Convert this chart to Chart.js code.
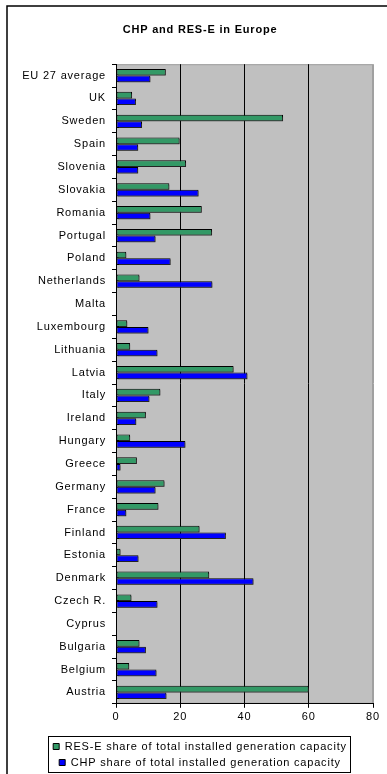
<!DOCTYPE html>
<html>
<head>
<meta charset="utf-8">
<script src="https://cdn.jsdelivr.net/npm/chart.js@4/dist/chart.umd.min.js"></script>
<style>
  html, body { margin: 0; padding: 0; background: #fff; }
  canvas { display: block; }
</style>
</head>
<body>
<canvas id="chpChart" width="387" height="774"></canvas>
<script>
// Countries, top to bottom as in the chart
const countries = ['EU 27 average', 'UK', 'Sweden', 'Spain', 'Slovenia', 'Slovakia', 'Romania',
    'Portugal', 'Poland', 'Netherlands', 'Malta', 'Luxembourg', 'Lithuania', 'Latvia', 'Italy',
    'Ireland', 'Hungary', 'Greece', 'Germany', 'France', 'Finland', 'Estonia', 'Denmark',
    'Czech R.', 'Cyprus', 'Bulgaria', 'Belgium', 'Austria'];

// RES-E share of total installed generation capacity (%)
const resShare = [15.5, 5.0, 52.0, 19.8, 21.8, 16.6, 26.7, 29.9, 3.2, 7.3, 0, 3.5, 4.4, 36.6,
    13.8, 9.3, 4.4, 6.5, 15.1, 13.2, 26.0, 1.4, 29.0, 4.8, 0, 7.3, 4.1, 60.0];

// CHP share of total installed generation capacity (%)
const chpShare = [10.7, 6.2, 8.1, 6.9, 6.9, 25.7, 10.7, 12.3, 17.0, 30.0, 0, 10.1, 12.9, 40.9,
    10.4, 6.3, 21.6, 1.4, 12.3, 3.2, 34.2, 7.0, 42.8, 12.9, 0, 9.3, 12.6, 15.7];

const xTicks = [0, 20, 40, 60, 80];

const FONT = 'Liberation Sans, Arial, sans-serif';

// wide Excel-like text spacing
const spacingPlugin = {
    id: 'spacing',
    beforeLayout(chart) { chart.ctx.letterSpacing = '0.8px'; },
    beforeDraw(chart) { chart.ctx.letterSpacing = '0.8px'; }
};

// grey plot area, page frame, bar shadows and legend box
const framePlugin = {
    id: 'frame',
    beforeDraw(chart) {
        const ctx = chart.ctx;
        const a = chart.chartArea;
        ctx.save();
        ctx.fillStyle = '#fff';
        ctx.fillRect(0, 0, chart.width, chart.height);
        // outer frame (only top and left visible)
        ctx.strokeStyle = '#000';
        ctx.lineWidth = 1.5;
        ctx.beginPath();
        ctx.moveTo(7, chart.height + 2);
        ctx.lineTo(7, 6);
        ctx.lineTo(chart.width + 2, 6);
        ctx.stroke();
        ctx.fillStyle = '#c0c0c0';
        ctx.fillRect(a.left, a.top, a.right - a.left, a.bottom - a.top);
        ctx.strokeStyle = '#a0a0a0';
        ctx.lineWidth = 1;
        ctx.strokeRect(a.left + 0.5, a.top + 0.5, a.right - a.left - 1, a.bottom - a.top - 1);
        ctx.restore();
    },
    beforeDatasetsDraw(chart) {
        const ctx = chart.ctx;
        ctx.save();
        ctx.shadowColor = 'rgba(60,60,60,0.6)';
        ctx.shadowOffsetX = 1.5;
        ctx.shadowOffsetY = 1.5;
        ctx.shadowBlur = 0;
    },
    afterDatasetsDraw(chart) {
        chart.ctx.restore();
    },
    afterDraw(chart) {
        const lg = chart.legend;
        if (!lg || !lg.legendHitBoxes.length) return;
        let l = Infinity, r = -Infinity, t = Infinity, b = -Infinity;
        lg.legendHitBoxes.forEach(h => {
            l = Math.min(l, h.left); r = Math.max(r, h.left + h.width);
            t = Math.min(t, h.top); b = Math.max(b, h.top + h.height);
        });
        const ctx = chart.ctx;
        ctx.save();
        ctx.strokeStyle = '#000';
        ctx.lineWidth = 1;
        ctx.strokeRect(Math.round(l - 5) + 0.5, Math.round(t - 5) + 0.5, Math.round(r - l + 8), Math.round(b - t + 9));
        ctx.restore();
    }
};

const ctx = document.getElementById('chpChart').getContext('2d');
const chpChart = new Chart(ctx, {
    type: 'bar',
    data: {
        labels: countries,
        datasets: [{
            label: 'RES-E share of total installed generation capacity',
            data: resShare,
            backgroundColor: '#339966',
            borderColor: '#000',
            borderWidth: 1,
            borderSkipped: false,
            categoryPercentage: 0.58,
            barPercentage: 1
        }, {
            label: 'CHP share of total installed generation capacity',
            data: chpShare,
            backgroundColor: '#0000ff',
            borderColor: '#000',
            borderWidth: 1,
            borderSkipped: false,
            categoryPercentage: 0.58,
            barPercentage: 1
        }]
    },
    options: {
        indexAxis: 'y',
        responsive: false,
        animation: false,
        devicePixelRatio: 1,
        layout: { padding: { left: 13, right: 0, top: 0, bottom: -4 } },
        scales: {
            x: {
                min: 0,
                max: 80,
                afterBuildTicks(scale) {
                    scale.ticks = xTicks.map(v => ({ value: v }));
                },
                afterFit(scale) { scale.height += 9; },
                grid: {
                    color: c => (c.tick && c.tick.value === 80 ? '#a0a0a0' : '#000'),
                    lineWidth: 1,
                    tickLength: 4,
                    tickColor: '#000'
                },
                border: { color: '#000' },
                ticks: { color: '#000', padding: 3, font: { family: FONT, size: 11 } }
            },
            y: {
                afterFit(scale) { scale.width = 103; },
                grid: {
                    offset: true,
                    drawOnChartArea: false,
                    tickLength: 4,
                    color: '#000'
                },
                border: { color: '#000' },
                ticks: { color: '#000', padding: 6, autoSkip: false, font: { family: FONT, size: 11 } }
            },
            // empty right-hand strip between plot and page edge
            yRight: {
                type: 'category',
                labels: countries,
                position: 'right',
                afterFit(scale) { scale.width = 14; },
                grid: { display: false },
                border: { display: false },
                ticks: { display: false }
            }
        },
        plugins: {
            title: {
                display: true,
                text: 'CHP and RES-E in Europe',
                color: '#000',
                font: { family: FONT, size: 11, weight: 'bold' },
                padding: { top: 23, bottom: 28 }
            },
            legend: {
                position: 'bottom',
                labels: {
                    color: '#000',
                    boxWidth: 6,
                    boxHeight: 6,
                    padding: 5,
                    font: { family: FONT, size: 11 }
                }
            },
            tooltip: { enabled: false }
        }
    },
    plugins: [spacingPlugin, framePlugin]
});
</script>
</body>
</html>
